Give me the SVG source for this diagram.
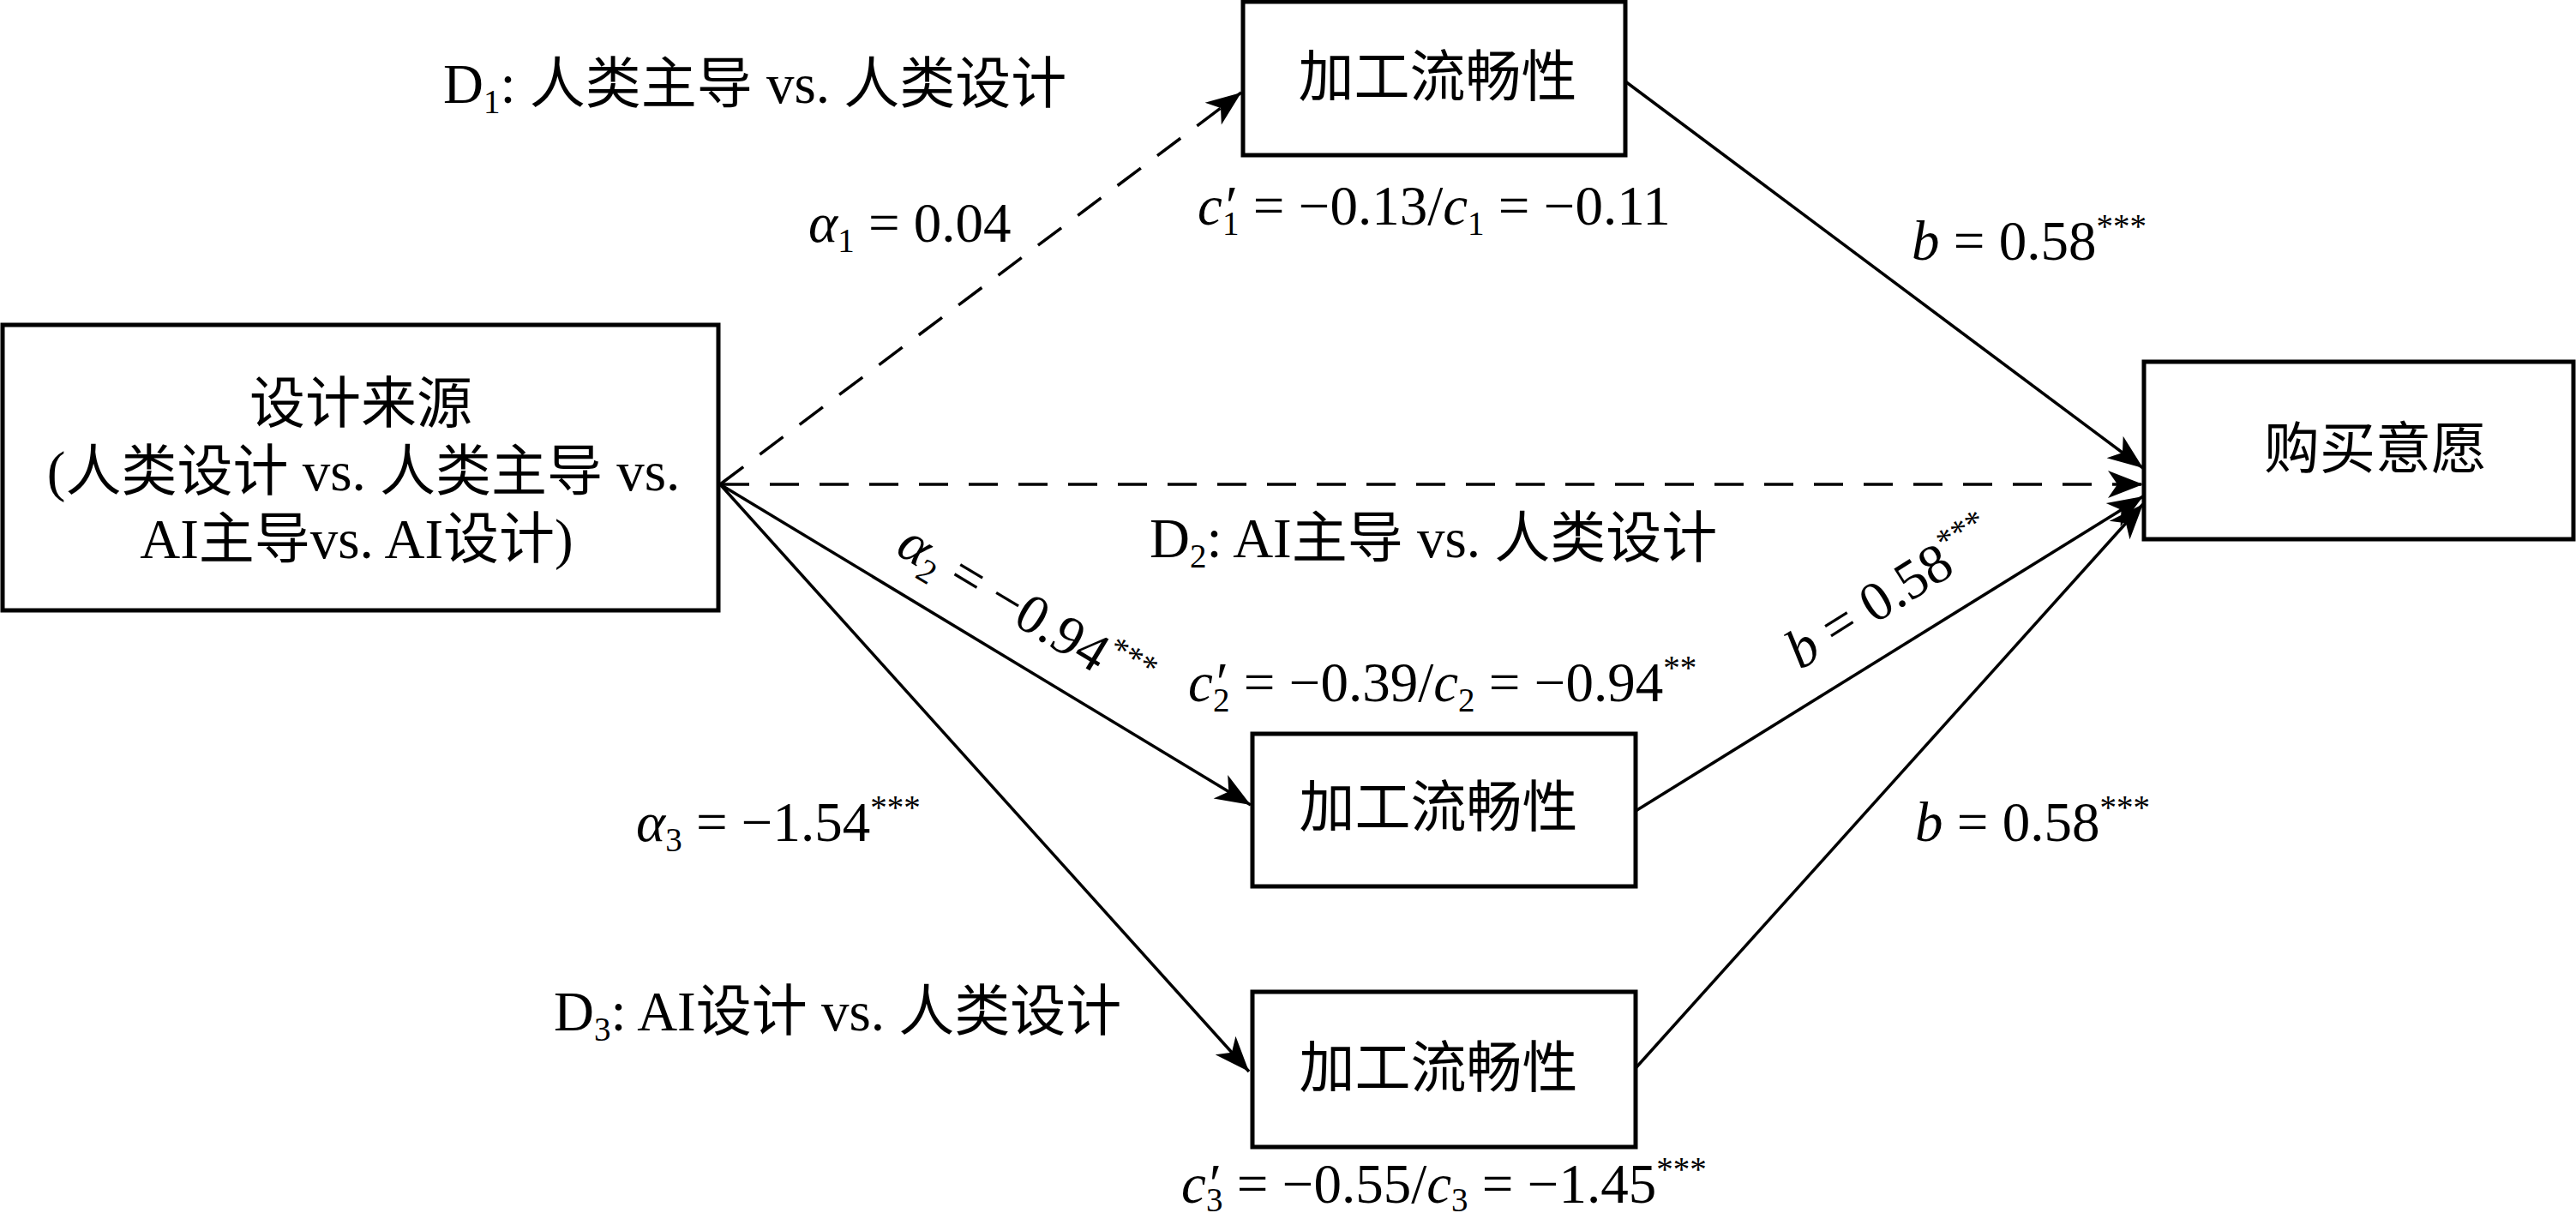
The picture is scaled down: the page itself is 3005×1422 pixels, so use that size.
<svg xmlns="http://www.w3.org/2000/svg" width="3005" height="1422" viewBox="0 0 3005 1422">
<style>
.t{font-family:'Liberation Serif','DejaVu Serif','Noto Sans CJK SC',serif;font-size:65px;fill:#000}
.i{font-style:italic}
.s{font-size:39px}
.box{fill:#fff;stroke:#000;stroke-width:5}
.ln{fill:none;stroke:#000;stroke-width:3.5}
.dash{stroke-dasharray:34 24}
</style>
<defs>
<marker id="ah" viewBox="-44 -18 46 36" markerWidth="46" markerHeight="36" refX="0" refY="0" orient="auto" markerUnits="userSpaceOnUse">
<path d="M0,0 L-41,-16 L-30,0 L-41,16 Z" fill="#000"/>
</marker>
</defs>
<rect width="3005" height="1422" fill="#fff"/>
<g id="connectors">
<path class="ln dash" d="M840,565 L1448,108" marker-end="url(#ah)"/>
<path class="ln dash" d="M840,565 L2500,565" marker-end="url(#ah)"/>
<path class="ln" d="M840,565 L1459,939" marker-end="url(#ah)"/>
<path class="ln" d="M840,565 L1457,1250" marker-end="url(#ah)"/>
<path class="ln" d="M1896,95 L2500,546" marker-end="url(#ah)"/>
<path class="ln" d="M1908,946 L2500,579" marker-end="url(#ah)"/>
<path class="ln" d="M1908,1246 L2500,588" marker-end="url(#ah)"/>
</g>
<g id="node-source">
<rect class="box" x="3" y="379" width="835" height="333"/>
<text class="t" x="421" y="493" text-anchor="middle">设计来源</text>
<text class="t" x="424" y="572" text-anchor="middle">(人类设计 vs. 人类主导 vs.</text>
<text class="t" x="416" y="651" text-anchor="middle">AI主导vs. AI设计)</text>
</g>
<g id="node-m1">
<rect class="box" x="1450" y="2" width="446" height="179"/>
<text class="t" x="1677" y="112" text-anchor="middle">加工流畅性</text>
</g>
<g id="node-m2">
<rect class="box" x="1461" y="856" width="447" height="178"/>
<text class="t" x="1678" y="964" text-anchor="middle">加工流畅性</text>
</g>
<g id="node-m3">
<rect class="box" x="1461" y="1157" width="447" height="181"/>
<text class="t" x="1678" y="1268" text-anchor="middle">加工流畅性</text>
</g>
<g id="node-outcome">
<rect class="box" x="2501" y="422" width="501" height="207"/>
<text class="t" x="2771" y="546" text-anchor="middle">购买意愿</text>
</g>
<g id="labels">
<text class="t" x="517" y="120">D<tspan class="s" dy="12">1</tspan><tspan dy="-12">: 人类主导 vs. 人类设计</tspan></text>
<text class="t" x="943" y="282"><tspan class="i">α</tspan><tspan class="s" dy="12">1</tspan><tspan dy="-12"> = 0.04</tspan></text>
<text class="t" x="1397" y="262"><tspan class="i">c</tspan><tspan class="i">′</tspan><tspan class="s" dx="-14" dy="12">1</tspan><tspan dy="-12"> = −0.13/</tspan><tspan class="i">c</tspan><tspan class="s" dy="12">1</tspan><tspan dy="-12"> = −0.11</tspan></text>
<text class="t" x="2230" y="303"><tspan class="i">b</tspan> = 0.58<tspan class="s" dy="-26">***</tspan></text>
<text class="t" x="1341" y="650">D<tspan class="s" dy="12">2</tspan><tspan dy="-12">: AI主导 vs. 人类设计</tspan></text>
<text class="t" x="1043" y="645" transform="rotate(31 1043 645)"><tspan class="i">α</tspan><tspan class="s" dy="12">2</tspan><tspan dy="-12"> = −0.94</tspan><tspan class="s" dy="-26">***</tspan></text>
<text class="t" x="1386" y="818"><tspan class="i">c</tspan><tspan class="i">′</tspan><tspan class="s" dx="-14" dy="12">2</tspan><tspan dy="-12"> = −0.39/</tspan><tspan class="i">c</tspan><tspan class="s" dy="12">2</tspan><tspan dy="-12"> = −0.94</tspan><tspan class="s" dy="-26">**</tspan></text>
<text class="t" x="2100" y="782" transform="rotate(-32 2100 782)"><tspan class="i">b</tspan> = 0.58<tspan class="s" dy="-26">***</tspan></text>
<text class="t" x="742" y="981"><tspan class="i">α</tspan><tspan class="s" dy="12">3</tspan><tspan dy="-12"> = −1.54</tspan><tspan class="s" dy="-26">***</tspan></text>
<text class="t" x="2234" y="981"><tspan class="i">b</tspan> = 0.58<tspan class="s" dy="-26">***</tspan></text>
<text class="t" x="646" y="1202">D<tspan class="s" dy="12">3</tspan><tspan dy="-12">: AI设计 vs. 人类设计</tspan></text>
<text class="t" x="1378" y="1403"><tspan class="i">c</tspan><tspan class="i">′</tspan><tspan class="s" dx="-14" dy="10">3</tspan><tspan dy="-10"> = −0.55/</tspan><tspan class="i">c</tspan><tspan class="s" dy="10">3</tspan><tspan dy="-10"> = −1.45</tspan><tspan class="s" dy="-26">***</tspan></text>
</g>
</svg>
